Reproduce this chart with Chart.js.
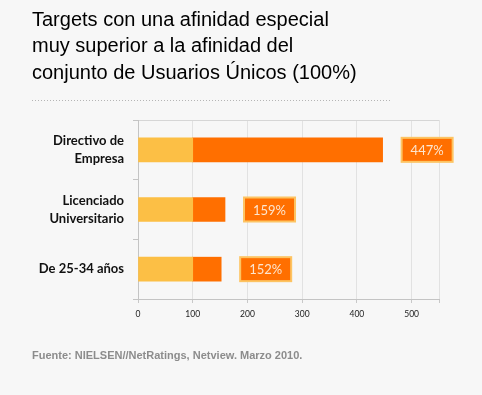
<!DOCTYPE html>
<html>
<head>
<meta charset="utf-8">
<script src="https://cdn.jsdelivr.net/npm/chart.js@4.4.1/dist/chart.umd.min.js"></script>
<style>
  html, body { margin: 0; padding: 0; background: #f7f7f7; }
  #wrap { width: 482px; height: 395px; }
</style>
</head>
<body>
<div id="wrap"><canvas id="targets" width="482" height="395"></canvas></div>
<script>
// targets and their affinity index (Usuarios Únicos = 100)
const Targets = [["Directivo de", "Empresa"], ["Licenciado", "Universitario"], "De 25-34 años"];
const BaseAffinity = [100, 100, 100];
const Affinity = [447, 159, 152];
const AffinityLabels = ["447%", "159%", "152%"];
const TitleLines = ["Targets con una afinidad especial", "muy superior a la afinidad del", "conjunto de Usuarios Únicos (100%)"];
const SourceText = "Fuente: NIELSEN//NetRatings, Netview. Marzo 2010.";

// dotted rule under the title + the orange % boxes
const extras = {
  id: "extras",
  afterDraw(chart) {
    const c = chart.ctx;
    const t = chart.titleBlock;
    c.save();
    c.strokeStyle = "#b5b5b5";
    c.lineWidth = 1;
    c.setLineDash([1, 2]);
    c.beginPath();
    c.moveTo(t.left, 100.5);
    c.lineTo(t.left + 360, 100.5);
    c.stroke();
    c.restore();
  },
  afterDatasetsDraw(chart) {
    const c = chart.ctx;
    const meta = chart.getDatasetMeta(1);
    c.save();
    meta.data.forEach((bar, i) => {
      const w = 51, h = bar.height;
      const x = bar.x + 19, y = bar.y - h / 2;
      c.fillStyle = "#ff6f00";
      c.fillRect(x, y, w, h);
      c.strokeStyle = "#fdc462";
      c.lineWidth = 2;
      c.strokeRect(x, y, w, h);
      c.fillStyle = "#fde6cf";
      c.font = "13px Lato";
      c.textAlign = "center";
      c.textBaseline = "middle";
      c.fillText(AffinityLabels[i], x + w / 2, y + h / 2 + 1);
    });
    c.restore();
  }
};

const ctx = document.getElementById("targets").getContext("2d");
const chart = new Chart(ctx, {
  type: "bar",
  data: {
    labels: Targets,
    datasets: [
      {
        label: "Usuarios Únicos",
        data: BaseAffinity,
        backgroundColor: "#fcbf45",
        borderWidth: 0,
        barThickness: 24
      },
      {
        label: "Afinidad",
        data: Affinity.map((v, i) => [BaseAffinity[i], v]),
        backgroundColor: "#ff6f00",
        borderWidth: 0,
        barThickness: 24
      }
    ]
  },
  options: {
    indexAxis: "y",
    responsive: false,
    animation: false,
    layout: { padding: { left: 32, right: 43, top: 0, bottom: 0 } },
    scales: {
      x: {
        min: 0,
        max: 550,
        ticks: {
          stepSize: 100,
          color: "#222",
          font: { family: "Lato", size: 8.5 },
          padding: 6,
          maxRotation: 0,
          callback: v => (v % 100 === 0 ? v : "")
        },
        grid: { color: "#e2e2e2", tickColor: "#c8c8c8", tickLength: 4 },
        border: { color: "#c4c4c4" },
        afterFit(scale) { scale.height = 40.4; }
      },
      y: {
        stacked: true,
        ticks: {
          color: "#111",
          font: { family: "Lato", size: 13, weight: "bold", lineHeight: 1.4 },
          padding: 9
        },
        grid: {
          offset: true,
          color: c => (c.index === 0 ? "#d6d6d6" : "transparent"),
          tickColor: "#c4c4c4",
          tickLength: 5
        },
        border: { color: "#c4c4c4" },
        afterFit(scale) { scale.width = 106; }
      }
    },
    plugins: {
      legend: { display: false },
      tooltip: { enabled: false },
      title: {
        display: true,
        text: TitleLines,
        align: "start",
        color: "#000",
        font: { family: "Liberation Sans", size: 20, weight: "normal", lineHeight: 1.325 },
        padding: { top: 6.9, bottom: 33.6 }
      },
      subtitle: {
        display: true,
        position: "bottom",
        text: SourceText,
        align: "start",
        color: "#8c8c8c",
        font: { family: "Liberation Sans", size: 11, weight: "bold", lineHeight: 1.2 },
        padding: { top: 10, bottom: 32.4 }
      }
    }
  },
  plugins: [extras]
});
</script>
</body>
</html>
